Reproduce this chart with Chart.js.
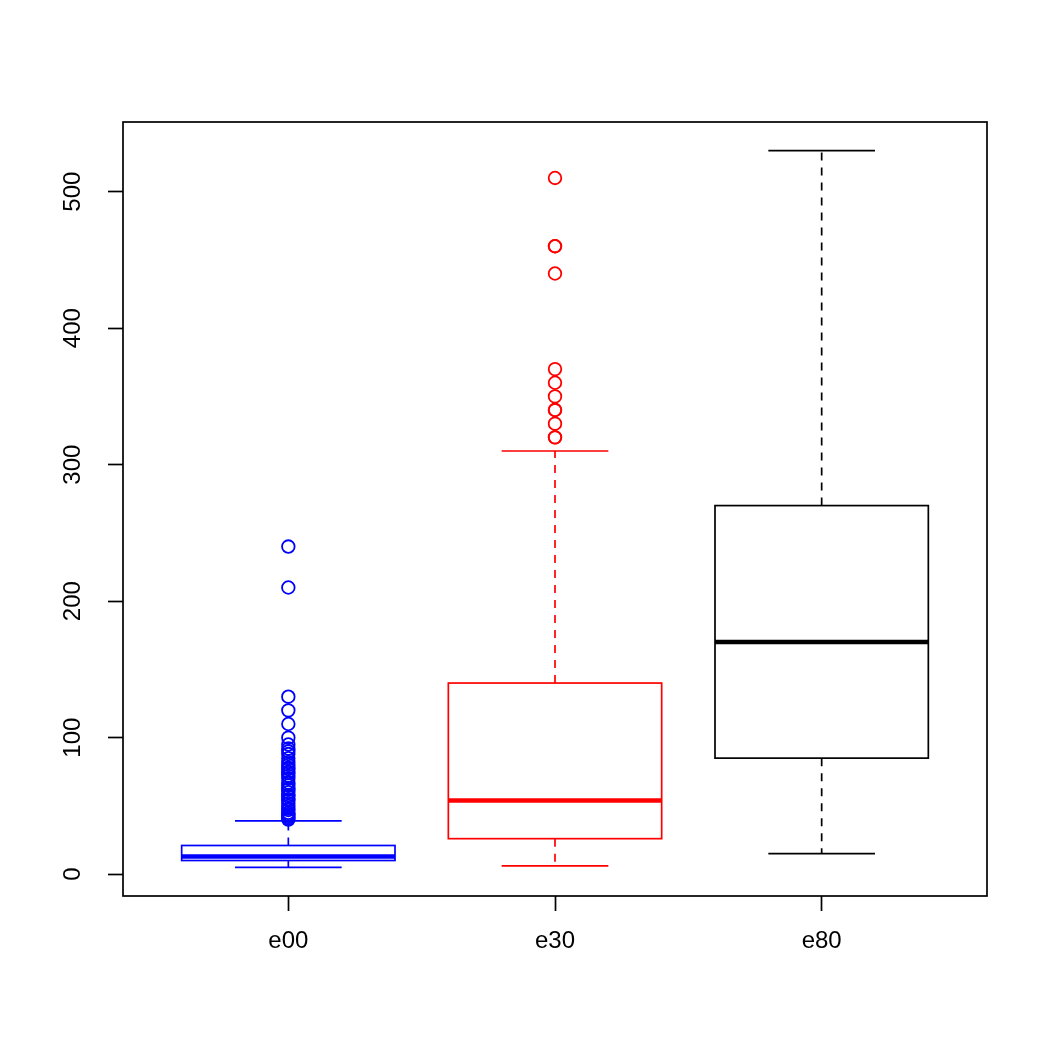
<!DOCTYPE html>
<html>
<head>
<meta charset="utf-8">
<script src="https://cdn.jsdelivr.net/npm/chart.js@4.4.1/dist/chart.umd.min.js"></script>
<style>
  html, body { margin: 0; padding: 0; background: #ffffff; }
  #wrap { width: 1050px; height: 1050px; }
</style>
</head>
<body>
<div id="wrap"><canvas id="c" width="1050" height="1050"></canvas></div>
<script>
// ---- data ----
const categories = ['e00', 'e30', 'e80'];
const boxColors = ['#0000FF', '#FF0000', '#000000'];
const lowerWhisker = [5, 6, 15];
const q1 = [10, 26, 85];
const median = [13, 54, 170];
const q3 = [21, 140, 270];
const upperWhisker = [39, 310, 530];
const outliersE00 = [40, 41, 42, 43, 44, 45, 47, 48, 50, 52, 54, 55, 57, 58, 60, 62, 63, 65, 67, 70, 72, 74, 75, 77, 78, 80, 82, 85, 88, 90, 92, 95, 100, 110, 120, 130, 210, 240];
const outliersE30 = [320, 320, 330, 340, 340, 350, 360, 370, 440, 460, 460, 510];
const outliersE80 = [];
const yTicks = [0, 100, 200, 300, 400, 500];
const xTicks = [1, 2, 3];

const outlierSets = [outliersE00, outliersE30, outliersE80];

const FONT = '"Liberation Sans", Arial, Helvetica, sans-serif';

const boxPlugin = {
  id: 'boxPlugin',
  beforeDatasetsDraw(chart) {
    const ctx = chart.ctx;
    const xs = chart.scales.x, ys = chart.scales.y;
    const halfBox = 0.4, halfStaple = 0.2;
    ctx.save();
    categories.forEach((cat, i) => {
      const xc = xs.getPixelForValue(i + 1);
      const xl = xs.getPixelForValue(i + 1 - halfBox);
      const xr = xs.getPixelForValue(i + 1 + halfBox);
      const sl = xs.getPixelForValue(i + 1 - halfStaple);
      const sr = xs.getPixelForValue(i + 1 + halfStaple);
      const yLo = ys.getPixelForValue(lowerWhisker[i]);
      const yQ1 = ys.getPixelForValue(q1[i]);
      const yMed = ys.getPixelForValue(median[i]);
      const yQ3 = ys.getPixelForValue(q3[i]);
      const yHi = ys.getPixelForValue(upperWhisker[i]);
      ctx.strokeStyle = boxColors[i];
      // whiskers (dashed)
      ctx.lineWidth = 1.7;
      ctx.setLineDash([8, 7]);
      ctx.beginPath();
      ctx.moveTo(xc, yQ3); ctx.lineTo(xc, yHi);
      ctx.moveTo(xc, yQ1); ctx.lineTo(xc, yLo);
      ctx.stroke();
      ctx.setLineDash([]);
      // staples
      ctx.beginPath();
      ctx.moveTo(sl, yHi); ctx.lineTo(sr, yHi);
      ctx.moveTo(sl, yLo); ctx.lineTo(sr, yLo);
      ctx.stroke();
      // box
      ctx.fillStyle = '#ffffff';
      ctx.fillRect(xl, yQ3, xr - xl, yQ1 - yQ3);
      ctx.strokeRect(xl, yQ3, xr - xl, yQ1 - yQ3);
      // median
      ctx.lineWidth = 4.5;
      ctx.beginPath();
      ctx.moveTo(xl, yMed); ctx.lineTo(xr, yMed);
      ctx.stroke();
    });
    ctx.restore();
  },
  afterDraw(chart) {
    const ctx = chart.ctx;
    const a = chart.chartArea;
    ctx.save();
    ctx.strokeStyle = '#000000';
    ctx.lineWidth = 1.7;
    ctx.strokeRect(a.left, a.top, a.right - a.left, a.bottom - a.top);
    ctx.restore();
  }
};

const datasets = outlierSets.map((arr, i) => ({
  label: categories[i],
  data: arr.map(v => ({ x: i + 1, y: v })),
  pointStyle: 'circle',
  pointRadius: 6.3,
  pointBorderWidth: 1.8,
  borderColor: boxColors[i],
  backgroundColor: 'rgba(0,0,0,0)',
  showLine: false
}));

new Chart(document.getElementById('c'), {
  type: 'scatter',
  data: { datasets },
  options: {
    responsive: false,
    animation: false,
    events: [],
    layout: { padding: { top: 122, right: 63, left: 0, bottom: 0 } },
    plugins: { legend: { display: false }, tooltip: { enabled: false } },
    scales: {
      x: {
        type: 'linear',
        min: 0.38,
        max: 3.62,
        afterBuildTicks(scale) { scale.ticks = xTicks.map(v => ({ value: v })); },
        afterFit(scale) { scale.height = 154; },
        ticks: {
          color: '#000000',
          font: { family: FONT, size: 24 },
          padding: 16,
          autoSkip: false,
          maxRotation: 0,
          minRotation: 0,
          callback: (v) => categories[v - 1]
        },
        grid: { drawOnChartArea: false, drawTicks: true, tickLength: 15, tickColor: '#000000', tickWidth: 1.7 },
        border: { display: false }
      },
      y: {
        type: 'linear',
        min: -16,
        max: 551,
        afterBuildTicks(scale) { scale.ticks = yTicks.map(v => ({ value: v })); },
        afterFit(scale) { scale.width = 123; },
        ticks: {
          color: '#000000',
          font: { family: FONT, size: 24 },
          padding: 15,
          autoSkip: false,
          minRotation: 90,
          maxRotation: 90,
          crossAlign: 'center'
        },
        grid: { drawOnChartArea: false, drawTicks: true, tickLength: 15, tickColor: '#000000', tickWidth: 1.7 },
        border: { display: false }
      }
    }
  },
  plugins: [boxPlugin]
});
</script>
</body>
</html>
